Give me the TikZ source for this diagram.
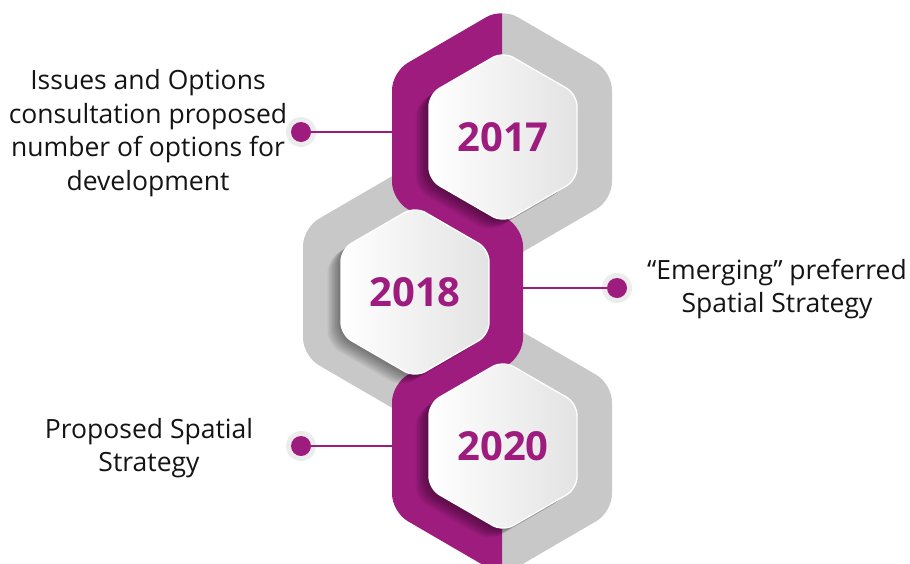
\documentclass[tikz,border=0pt]{standalone}
\usepackage{fontspec}
\setmainfont{Open Sans}
\definecolor{purp}{RGB}{157,28,126}
\definecolor{bandgrey}{RGB}{200,200,200}
\definecolor{halo}{RGB}{236,236,236}
\definecolor{txt}{RGB}{20,20,20}
\newcommand\hexat[4]{({#1},{#2-#4}) -- ({#1+#3},{#2-#4/2}) -- ({#1+#3},{#2+#4/2}) -- ({#1},{#2+#4}) -- ({#1-#3},{#2+#4/2}) -- ({#1-#3},{#2-#4/2}) -- cycle}
\tikzset{
  outerband/.style={rounded corners=18},
  innerhex/.style={left color=white, right color=black!11, draw=white, line width=1.3, rounded corners=12},
  shadowhex/.style={fill=black, opacity=0.055, rounded corners=14},
  year/.style={font=\fontsize{40}{40}\selectfont\bfseries, text=purp, inner sep=0},
  lbl/.style={font=\fontsize{26.5}{33.5}\selectfont, text=txt, align=center, inner sep=0},
  link/.style={draw=purp, line width=2},
  halodot/.style={circle, fill=halo, minimum size=30, inner sep=0},
  dotc/.style={circle, fill=purp, minimum size=20, inner sep=0}
}
\begin{document}
\begin{tikzpicture}[x=1pt, y=-1pt]
\useasboundingbox (0,0) rectangle (910,563);
\begin{scope}
\clip (0,0) rectangle (910,563);
% grey halves
\begin{scope}\clip (502,-10) rectangle (700,600);
\fill[bandgrey, outerband] \hexat{502}{136}{110}{128};
\end{scope}
\begin{scope}\clip (200,-10) rectangle (413,600);
\fill[bandgrey, outerband] \hexat{413}{292}{110}{128};
\end{scope}
\begin{scope}\clip (502,-10) rectangle (700,600);
\fill[bandgrey, outerband] \hexat{502}{448}{110}{128};
\end{scope}
% purple halves
\begin{scope}\clip (200,-10) rectangle (502,600);
\fill[purp, outerband] \hexat{502}{136}{110}{128};
\end{scope}
\begin{scope}\clip (413,-10) rectangle (700,600);
\fill[purp, outerband] \hexat{413}{292}{110}{128};
\end{scope}
\begin{scope}\clip (200,-10) rectangle (502,600);
\fill[purp, outerband] \hexat{502}{448}{110}{128};
\end{scope}
% shadows
\foreach \s in {1,...,9}{
  \fill[shadowhex, shift={({-1.5*\s},{1.1*\s})}] \hexat{503}{137}{74}{85.5};
  \fill[shadowhex, shift={({-1.5*\s},{1.1*\s})}] \hexat{415}{292}{74}{85.5};
  \fill[shadowhex, shift={({-1.5*\s},{1.1*\s})}] \hexat{503}{446}{74}{85.5};
}
% white hexes
\shadedraw[innerhex] \hexat{503}{137}{74}{85.5};
\shadedraw[innerhex] \hexat{415}{292}{74}{85.5};
\shadedraw[innerhex] \hexat{503}{446}{74}{85.5};
\end{scope}
% years
\node[year] (y17) at (503,137) {2017};
\node[year] (y18) at (415,292) {2018};
\node[year] (y20) at (503,446) {2020};
% connectors
\coordinate (b17) at (393,132);
\coordinate (b18) at (523,288);
\coordinate (b20) at (393,446);
\node[halodot] (h17) at (301,132) {};
\node[halodot] (h18) at (617,288) {};
\node[halodot] (h20) at (301,446) {};
\draw[link] (h17.center) -- (b17);
\draw[link] (h18.center) -- (b18);
\draw[link] (h20.center) -- (b20);
\node[dotc] (d17) at (h17.center) {};
\node[dotc] (d18) at (h18.center) {};
\node[dotc] (d20) at (h20.center) {};
% labels
\node[lbl] (t17) at (148,133) {Issues and Options\\consultation proposed\\number of options for\\development};
\node[lbl] (t18) at (777,289) {“Emerging” preferred\\Spatial Strategy};
\node[lbl] (t20) at (149,448) {Proposed Spatial\\Strategy};
\end{tikzpicture}
\end{document}
